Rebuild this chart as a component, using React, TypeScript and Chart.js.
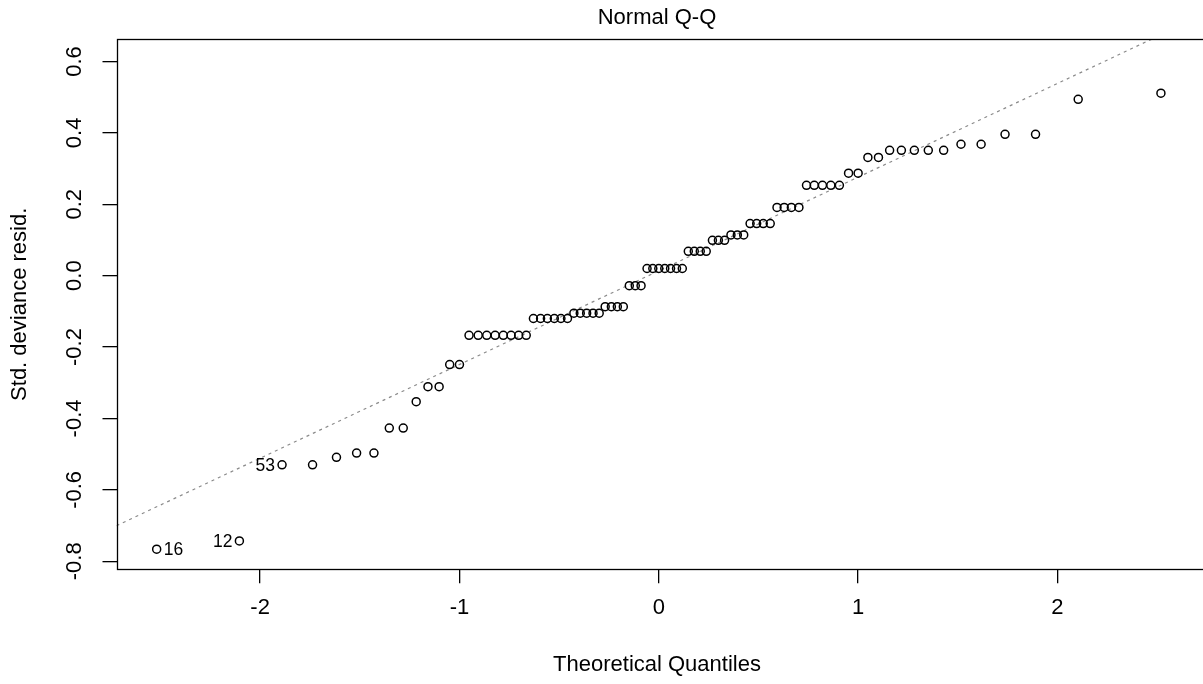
import React, { useEffect, useRef } from "react";
import { Chart, registerables } from "chart.js";

Chart.register(...registerables);

// Theoretical quantiles (x)
const theoreticalQuantiles = [
  -2.519, -2.104, -1.89, -1.737, -1.617, -1.516, -1.429, -1.352, -1.282, -1.217,
  -1.158, -1.102, -1.049, -1.0, -0.952, -0.906, -0.863, -0.821, -0.78, -0.741,
  -0.703, -0.665, -0.629, -0.593, -0.559, -0.524, -0.491, -0.458, -0.426, -0.394,
  -0.362, -0.33, -0.299, -0.269, -0.238, -0.208, -0.178, -0.148, -0.118, -0.089,
  -0.059, -0.03, 0.0, 0.03, 0.059, 0.089, 0.118, 0.148, 0.178, 0.208,
  0.238, 0.269, 0.299, 0.33, 0.362, 0.394, 0.426, 0.458, 0.491, 0.524,
  0.559, 0.593, 0.629, 0.665, 0.703, 0.741, 0.78, 0.821, 0.863, 0.906,
  0.952, 1.0, 1.049, 1.102, 1.158, 1.217, 1.282, 1.352, 1.429, 1.516,
  1.617, 1.737, 1.89, 2.104, 2.519,
];

// Standardized deviance residuals (y)
const stdDevianceResid = [
  -0.766, -0.743, -0.53, -0.53, -0.509, -0.497, -0.497, -0.427, -0.427, -0.353,
  -0.311, -0.311, -0.249, -0.249, -0.167, -0.167, -0.167, -0.167, -0.167, -0.167,
  -0.167, -0.167, -0.12, -0.12, -0.12, -0.12, -0.12, -0.12, -0.105, -0.105,
  -0.105, -0.105, -0.105, -0.087, -0.087, -0.087, -0.087, -0.028, -0.028, -0.028,
  0.02, 0.02, 0.02, 0.02, 0.02, 0.02, 0.02, 0.068, 0.068, 0.068,
  0.068, 0.099, 0.099, 0.099, 0.114, 0.114, 0.114, 0.146, 0.146, 0.146,
  0.146, 0.191, 0.191, 0.191, 0.191, 0.253, 0.253, 0.253, 0.253, 0.253,
  0.287, 0.287, 0.331, 0.331, 0.351, 0.351, 0.351, 0.351, 0.351, 0.368,
  0.368, 0.396, 0.396, 0.494, 0.511,
];

const xTickValues = [-2, -1, 0, 1, 2];
const xTickLabels = ["-2", "-1", "0", "1", "2"];
const yTickValues = [-0.8, -0.6, -0.4, -0.2, 0, 0.2, 0.4, 0.6];
const yTickLabels = ["-0.8", "-0.6", "-0.4", "-0.2", "0.0", "0.2", "0.4", "0.6"];

// Identified points (index into the series), their ids and label side
const labelledIndex = [0, 1, 2];
const labelledIds = ["16", "12", "53"];
const labelledSide = ["right", "left", "left"];

// Reference (qq) line
const qqIntercept = 0.0135;
const qqSlope = 0.2624;

const xLimits = [-2.7205, 2.7025];
const yLimits = [-0.8225, 0.662];

const FONT = '"Liberation Sans", Arial, Helvetica, sans-serif';

export default function App() {
  const canvasRef = useRef<HTMLCanvasElement | null>(null);

  useEffect(() => {
    document.body.style.margin = "0";
    document.body.style.overflow = "hidden";
    const canvas = canvasRef.current;
    if (!canvas) return;

    const framePlugin = {
      id: "rFrame",
      afterDraw(chart: any) {
        const { ctx, chartArea: a } = chart;
        ctx.save();
        ctx.strokeStyle = "#000";
        ctx.lineWidth = 1.3;
        ctx.strokeRect(
          Math.round(a.left) + 0.5,
          Math.round(a.top) + 0.5,
          a.right - a.left + 20,
          Math.round(a.bottom) - Math.round(a.top)
        );
        const xs = chart.scales.x;
        const ys = chart.scales.y;
        ctx.font = `17.5px ${FONT}`;
        ctx.fillStyle = "#000";
        ctx.textBaseline = "middle";
        labelledIndex.forEach((idx, i) => {
          const px = xs.getPixelForValue(theoreticalQuantiles[idx]);
          const py = ys.getPixelForValue(stdDevianceResid[idx]);
          if (labelledSide[i] === "right") {
            ctx.textAlign = "left";
            ctx.fillText(labelledIds[i], px + 7, py + 1);
          } else {
            ctx.textAlign = "right";
            ctx.fillText(labelledIds[i], px - 7, py + 1);
          }
        });
        ctx.restore();
      },
    };

    const points = theoreticalQuantiles.map((x, i) => ({ x, y: stdDevianceResid[i] }));
    const qqLine = xLimits.map((x) => ({ x, y: qqIntercept + qqSlope * x }));

    const chart = new Chart(canvas, {
      type: "scatter",
      data: {
        datasets: [
          {
            type: "scatter",
            data: points,
            pointRadius: 4,
            pointBorderWidth: 1.5,
            pointBorderColor: "#000",
            pointBackgroundColor: "rgba(0,0,0,0)",
            borderColor: "#000",
            backgroundColor: "rgba(0,0,0,0)",
          } as any,
          {
            type: "line",
            data: qqLine,
            borderColor: "#8a8a8a",
            borderWidth: 1.2,
            borderDash: [3, 4],
            pointRadius: 0,
            fill: false,
            tension: 0,
          } as any,
        ],
      },
      options: {
        responsive: false,
        animation: false,
        events: [],
        layout: { padding: { left: 0, right: 0, top: 0, bottom: 0 } },
        plugins: {
          legend: { display: false },
          tooltip: { enabled: false },
          title: {
            display: true,
            text: "Normal Q-Q",
            fullSize: false,
            color: "#000",
            font: { family: FONT, size: 22, weight: "normal" },
            padding: { top: 4.8, bottom: 8.1 },
          },
        },
        scales: {
          x: {
            type: "linear",
            min: xLimits[0],
            max: xLimits[1],
            bounds: "data",
            afterBuildTicks: (s: any) => {
              s.ticks = xTickValues.map((v) => ({ value: v }));
            },
            afterFit: (s: any) => {
              s.height = 114.7;
            },
            ticks: {
              autoSkip: false,
              maxRotation: 0,
              minRotation: 0,
              padding: 11.5,
              color: "#000",
              font: { family: FONT, size: 22 },
              callback: (_v: any, i: number) => xTickLabels[i],
            },
            grid: {
              display: true,
              drawOnChartArea: false,
              drawTicks: true,
              tickLength: 14,
              color: "#000",
              lineWidth: 1.3,
            },
            border: { display: false },
            title: {
              display: true,
              text: "Theoretical Quantiles",
              color: "#000",
              font: { family: FONT, size: 22 },
              padding: { top: 0, bottom: 5.8 },
            },
          },
          y: {
            type: "linear",
            min: yLimits[0],
            max: yLimits[1],
            bounds: "data",
            afterBuildTicks: (s: any) => {
              s.ticks = yTickValues.map((v) => ({ value: v }));
            },
            afterFit: (s: any) => {
              s.width = 116.5;
            },
            ticks: {
              autoSkip: false,
              minRotation: 90,
              maxRotation: 90,
              crossAlign: "center",
              padding: 8.5,
              color: "#000",
              font: { family: FONT, size: 22 },
              callback: (_v: any, i: number) => yTickLabels[i],
            },
            grid: {
              display: true,
              drawOnChartArea: false,
              drawTicks: true,
              tickLength: 14,
              color: "#000",
              lineWidth: 1.3,
            },
            border: { display: false },
            title: {
              display: true,
              text: "Std. deviance resid.",
              color: "#000",
              font: { family: FONT, size: 22 },
              padding: { top: 6.8, bottom: 0 },
            },
          },
        },
      } as any,
      plugins: [framePlugin],
    });

    return () => {
      chart.destroy();
    };
  }, []);

  return (
    <div style={{ width: 1203, height: 684, background: "#fff" }}>
      <canvas ref={canvasRef} width={1203} height={684} style={{ display: "block", width: 1203, height: 684 }} />
    </div>
  );
}
